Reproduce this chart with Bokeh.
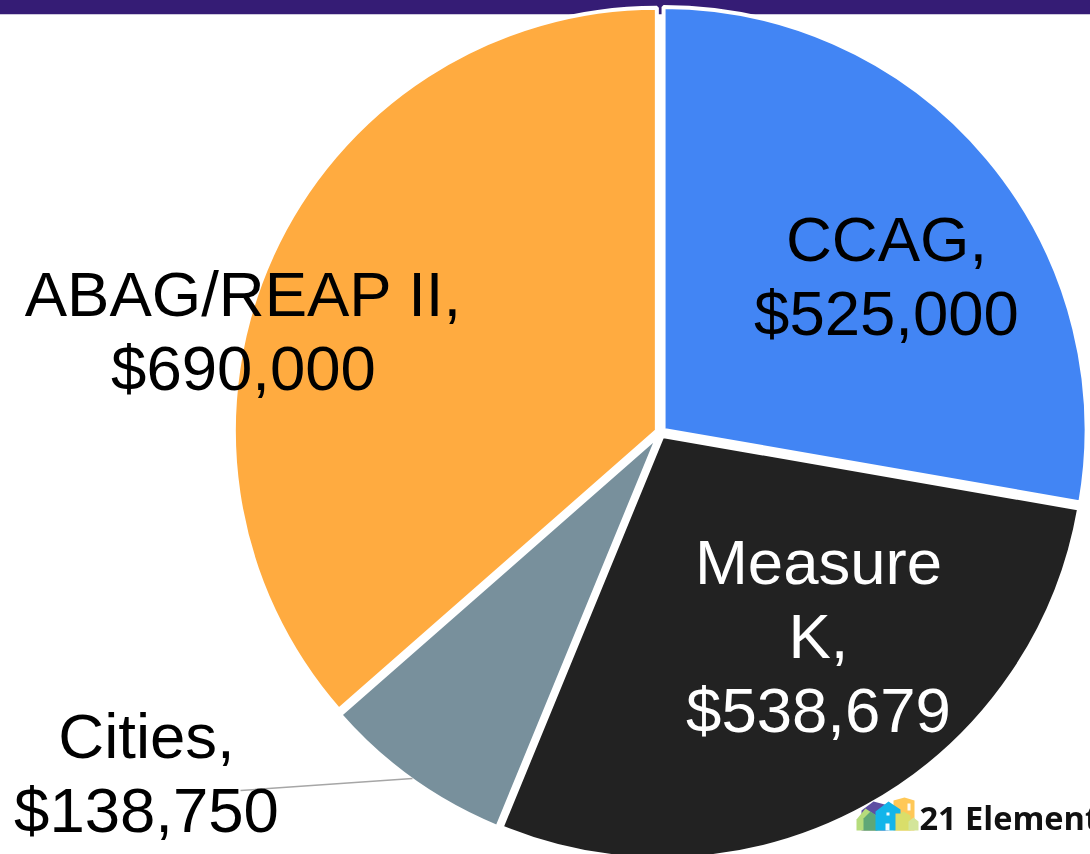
from math import pi
import numpy as np
from bokeh.plotting import figure
from bokeh.core.properties import value
from bokeh.embed import file_html
from bokeh.resources import INLINE

W, H = 1090, 854
categories = ["CCAG", "Measure K", "Cities", "ABAG/REAP II"]
amounts = [525000, 538679, 138750, 690000]
colors = ["#4285F4", "#222222", "#78909C", "#FFAB40"]
label_lines = [["CCAG,", "$525,000"], ["Measure", "K,", "$538,679"], ["Cities,", "$138,750"], ["ABAG/REAP II,", "$690,000"]]
label_colors = ["#000000", "#FFFFFF", "#000000", "#000000"]
label_centers = [(886, 275), (818, 635), (146, 772), (243, 330)]
LINE_STEP = 74
FONT = "63.5px"
LVL = "overlay"


def Y(y):
    return H - y


p = figure(width=W, height=H, x_range=(0, W), y_range=(0, H), toolbar_location=None,
           output_backend="svg", min_border=0, outline_line_color=None, background_fill_color="white")
p.axis.visible = False
p.grid.visible = False
p.styles = {"position": "fixed", "left": "0px", "top": "0px"}

# top band
p.quad(left=-50, right=W + 50, bottom=Y(13.7), top=Y(-50), color="#351C75", line_color=None, level=LVL)

# pie, with every slice pulled slightly out of the centre
cx, cy, r, pull = 660, 432, 423, 4
fr = np.cumsum([0] + amounts) / sum(amounts)
starts = pi / 2 - 2 * pi * fr[:-1]
ends = pi / 2 - 2 * pi * fr[1:]
mids = (starts + ends) / 2
p.wedge(x=cx + pull * np.cos(mids), y=Y(cy) + pull * np.sin(mids), radius=r,
        start_angle=ends, end_angle=starts, direction="anticlock",
        fill_color=colors, line_color="white", line_width=4, level=LVL)

# leader line for Cities
p.line([240, 412], [Y(790), Y(778)], line_color="#A6A6A6", line_width=1.5, level=LVL)

# labels
for lines, col, (lx, ly) in zip(label_lines, label_colors, label_centers):
    n = len(lines)
    for i, t in enumerate(lines):
        p.text([lx], [Y(ly + (i - (n - 1) / 2) * LINE_STEP)], text=[t], text_color=col,
               text_font=value("Liberation Sans"), text_font_size=FONT,
               text_align="center", text_baseline="middle", level=LVL)


# logo: 21 Elements
def shape(xs, ys, color, alpha=1.0):
    p.patch(xs, [Y(v) for v in ys], fill_color=color, line_color=None, fill_alpha=alpha, level=LVL)


shape([861, 861, 873, 888, 888], [830, 810, 801, 805, 830], "#5E4FA2")
shape([893, 893, 904, 914, 914], [830, 800, 797, 800, 830], "#FFC857")
shape([856, 856, 865, 877, 880, 880], [830, 819, 808, 816, 819, 830], "#B5DC7C")
shape([863, 863, 870, 877, 877], [830, 818, 811, 816, 830], "#5FA777")
shape([895, 895, 903, 910, 910], [830, 815, 811, 815, 830], "#D9DE6A")
shape([908, 908, 913, 918, 918], [830, 821, 817, 821, 830], "#D3E59A")
shape([875, 875, 888, 900, 900, 895, 895], [830, 811, 801, 809, 813, 813, 830], "#12B5EA")
p.quad(left=[885, 886, 907], right=[889, 889, 910], bottom=[Y(830), Y(815), Y(810)],
       top=[Y(823), Y(812), Y(803)], color="white", line_color=None, fill_alpha=0.95, level=LVL)
p.text([919], [Y(817)], text=["21 Element"], text_color="#111111", text_font=value("Open Sans"),
       text_font_size="32.5px", text_font_style="bold", text_align="left", text_baseline="middle", level=LVL)

open("out.html", "w").write(file_html(p, INLINE))
